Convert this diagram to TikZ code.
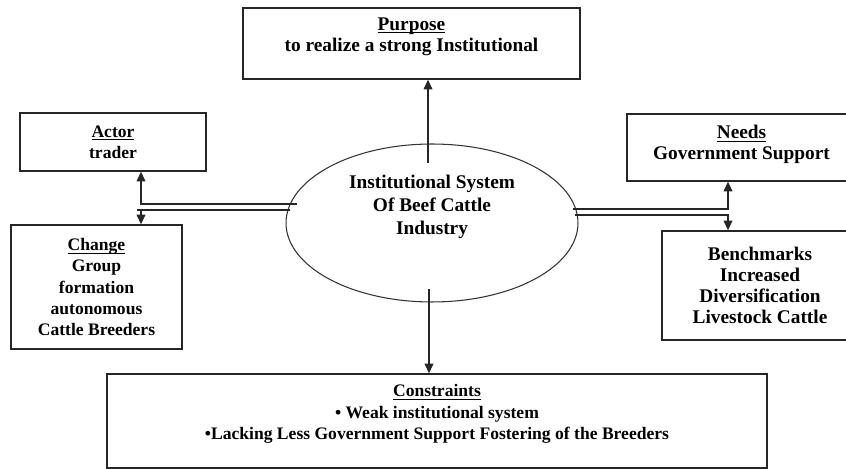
\documentclass[tikz,border=0pt]{standalone}
\usepackage{fontspec}
\setmainfont{Liberation Serif}
\newcommand{\headline}[1]{\setbox0\hbox{#1}\rlap{\rule[-1.6pt]{\wd0}{0.5pt}}\box0}
\usetikzlibrary{shapes.geometric, arrows.meta}

\begin{document}
\begin{tikzpicture}[x=0.02cm, y=-0.02cm,
    box/.style={rectangle, draw=black!85, line width=0.8pt, align=center, inner sep=2pt, font=\bfseries\fontsize{11}{12}\selectfont},
    smallbox/.style={box, font=\bfseries\fontsize{10}{12}\selectfont},
    hub/.style={ellipse, draw=black!80, line width=0.6pt, align=center, inner sep=0pt, font=\bfseries\fontsize{11}{13}\selectfont},
    flow/.style={-{Triangle[length=5.5pt, width=5pt]}, line width=0.6pt, black!85},
    link/.style={line width=0.6pt, black!85}
]
    \useasboundingbox (0,0) rectangle (846,469);
    \clip (0,0) rectangle (846,469);

    % Centre
    \node[hub, minimum width=5.84cm, minimum height=3.16cm] (sys) at (432,223) {Institutional System\\Of Beef Cattle\\Industry\\[7.5pt]\mbox{}};

    % Top and bottom
    \node[box, minimum width=6.74cm, minimum height=1.42cm] (purpose) at (411.5,43.5) {\headline{Purpose}\\to realize a strong Institutional\\[-2pt]\mbox{}};
    \node[smallbox, minimum width=13.2cm, minimum height=1.88cm] (constr) at (437,421) {\headline{Constraints}\\• Weak institutional system\\•Lacking Less Government Support Fostering of the Breeders\\[-1.7pt]\mbox{}};

    % Left side
    \node[smallbox, minimum width=3.72cm, minimum height=1.16cm] (actor) at (113,142) {\headline{Actor}\\trader};
    \node[smallbox, minimum width=3.42cm, minimum height=2.48cm] (change) at (96.5,287) {\headline{Change}\\Group\\formation\\autonomous\\Cattle Breeders};

    % Right side
    \node[box, minimum width=4.58cm, minimum height=1.34cm] (needs) at (741.5,147.5) {\headline{Needs}\\Government Support\\[-6.3pt]\mbox{}};
    \node[box, minimum width=3.92cm, minimum height=2.18cm] (bench) at (760,285.5) {Benchmarks\\Increased\\Diversification\\Livestock Cattle};

    % Connectors
    \coordinate (pstart) at (428,163);
    \coordinate (cstart) at (429,289);
    \draw[flow] (pstart) -- (pstart |- purpose.south);
    \draw[flow] (cstart) -- (cstart |- constr.north);

    \coordinate (lup) at (297,204);
    \coordinate (ldn) at (290,210);
    \coordinate (lbend) at (141,204);
    \coordinate (lend) at (137,210);
    \draw[flow] (lup) -- (lbend) -- (lbend |- actor.south);
    \draw[link] (ldn) -- (lend);
    \draw[flow] (lbend |- ldn) -- (lbend |- change.north);

    \coordinate (rup) at (573,209);
    \coordinate (rdn) at (575,215);
    \coordinate (rbend) at (728,209);
    \draw[flow] (rup) -- (rbend) -- (rbend |- needs.south);
    \draw[flow] (rdn) -- (rbend |- rdn) -- (rbend |- bench.north);

\end{tikzpicture}
\end{document}
